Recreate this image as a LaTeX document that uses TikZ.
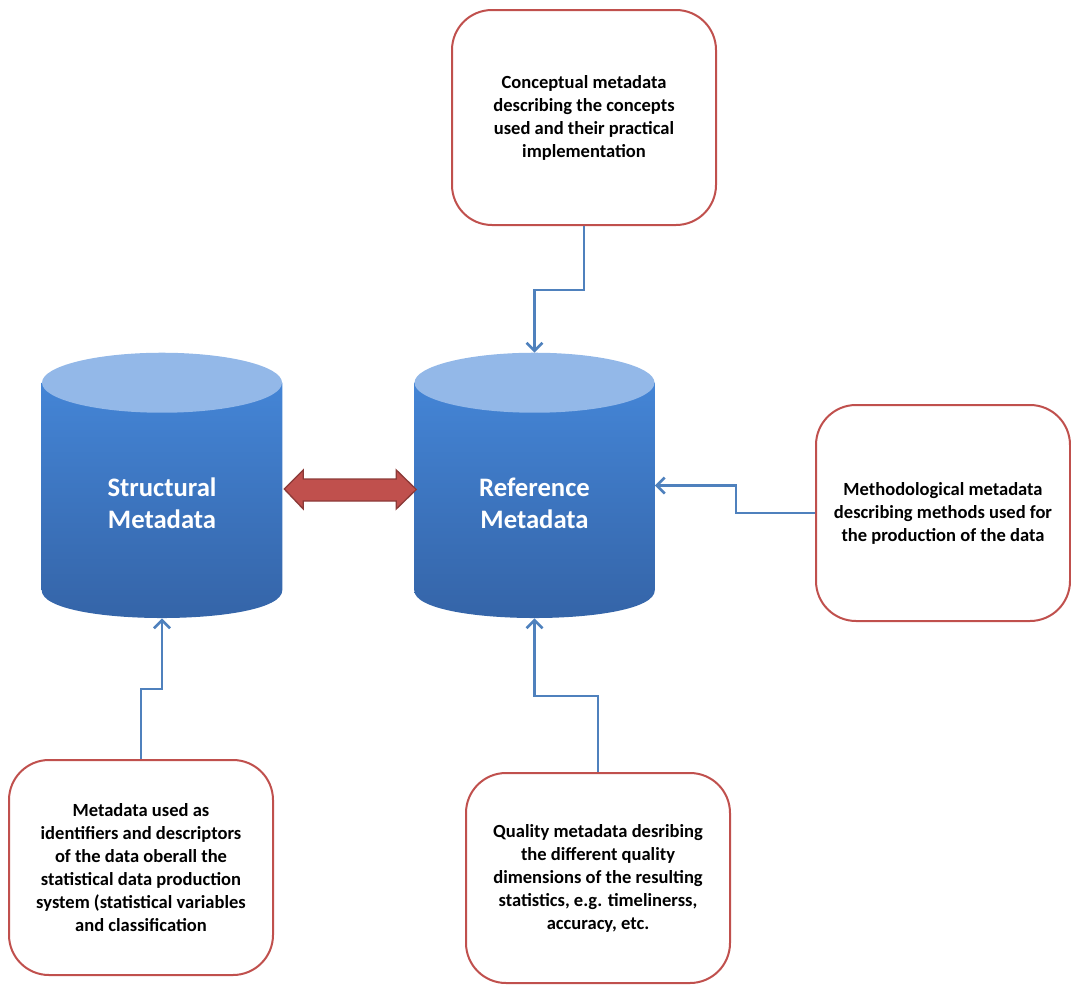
\documentclass[tikz,border=0pt]{standalone}
\usepackage{fontspec}
\setmainfont{Carlito}
\usetikzlibrary{arrows.meta, calc}

\definecolor{boxred}{HTML}{C0504D}
\definecolor{darkred}{HTML}{8C3A38}
\definecolor{lineblue}{HTML}{4F81BD}
\definecolor{cyltop}{HTML}{93B8E8}
\definecolor{cylhigh}{HTML}{4485D6}
\definecolor{cyllow}{HTML}{3463A6}

% cylinder drawn round an (invisible) node
\newcommand{\drawcyl}[1]{%
  \shade[top color=cylhigh, bottom color=cyllow]
    ($(#1.north west)+(0,30)$) -- ($(#1.south west)+(0,-28)$)
    .. controls +(0,37) and +(0,37) .. ($(#1.south east)+(0,-28)$)
    -- ($(#1.north east)+(0,30)$) -- cycle;
  \fill[cyltop] ($(#1.north)+(0,30)$) ellipse [x radius=90pt, y radius=22.5pt];
}

\begin{document}
\begin{tikzpicture}[x=0.75pt, y=-0.75pt]
	\tikzset{infoStyle/.style = {draw = boxred, line width = 1.5pt, fill = white, rounded corners = 30pt,
		minimum width = 198pt, minimum height = 161.25pt, align = center, inner sep = 0pt,
		font = \bfseries\fontsize{13.9}{17.25}\selectfont}}
	\tikzset{cylStyle/.style = {shape = rectangle, minimum width = 180pt, minimum height = 198.75pt, inner sep = 0pt}}
	\tikzset{cylTextStyle/.style = {align = center, text = white, font = \bfseries\fontsize{20}{24}\selectfont}}
	\tikzset{linkStyle/.style = {draw = lineblue, line width = 2.1pt, -{Straight Barb[length = 6pt, width = 12pt]}}}
	\tikzset{bothStyle/.style = {fill = boxred, draw = darkred, line width = 1pt, line join = miter}}
	\useasboundingbox (0,0) rectangle (1071,985);

	% cylinders
	\node[cylStyle] (sm) at (162,485.5) {};
	\node[cylStyle] (rm) at (534.5,485.5) {};
	\drawcyl{sm}
	\drawcyl{rm}
	\node[cylTextStyle] (smText) at (162,503) {Structural\\Metadata};
	\node[cylTextStyle] (rmText) at (534.5,503) {Reference\\Metadata};

	% boxes
	\node[infoStyle] (cb) at (584,117.5) {Conceptual metadata\\describing the concepts\\used and their practical\\implementation};
	\node[infoStyle, minimum width = 190.5pt, minimum height = 162pt] (mb) at (943,513) {Methodological metadata\\describing methods used for\\the production of the data};
	\node[infoStyle] (sb) at (141,867.5) {Metadata used as\\identifiers and descriptors\\of the data oberall the\\statistical data production\\system (statistical variables\\and classification};
	\node[infoStyle, minimum height = 157.5pt] (qb) at (598,878) {Quality metadata desribing\\the different quality\\dimensions of the resulting\\statistics, e.g. timelinerss,\\accuracy, etc.};

	% connectors
	\draw[linkStyle] (cb.south) -- ++(0,64) -| (rm.north);
	\draw[linkStyle] (mb.west) -- ++(-79,0) |- (rm.east);
	\draw[linkStyle] (sb.north) -- ++(0,-70) -| (sm.south);
	\draw[linkStyle] (qb.north) -- ++(0,-76) -| (rm.south);

	% double arrow between the cylinders
	\draw[bothStyle] ($(sm.east)+(2,3.5)$) -- ++(19,-19) -- ++(0,9) -- ++(93,0) -- ++(0,-9)
		-- ++(20,19.5) -- ++(-20,19.5) -- ++(0,-8) -- ++(-93,0) -- ++(0,8) -- cycle;
\end{tikzpicture}
\end{document}
